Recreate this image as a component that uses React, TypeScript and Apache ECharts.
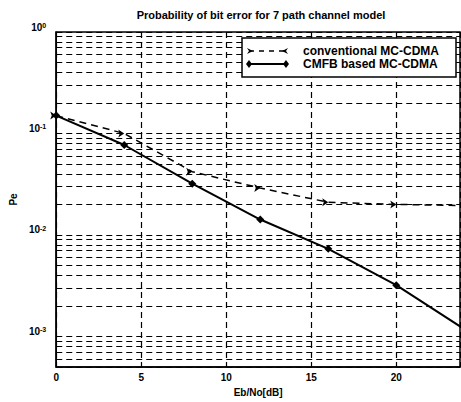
import React, { useEffect, useRef } from "react";
import * as echarts from "echarts";

const TITLE = "Probability of bit error for 7 path channel model";
const X_LABEL = "Eb/No[dB]";
const Y_LABEL = "Pe";
const SNR = [0, 4, 8, 12, 16, 20, 24];
const CONVENTIONAL = [0.15, 0.1, 0.042, 0.029, 0.021, 0.02, 0.0195];
const CMFB = [0.15, 0.077, 0.032, 0.0142, 0.0073, 0.0032, 0.00118];
const SERIES_NAMES = ["conventional MC-CDMA", "CMFB based MC-CDMA"];
const X_MIN = 0;
const X_MAX = 23.75;
const X_INTERVAL = 5;
const Y_MIN = 0.0005;
const Y_MAX = 1;
const DECADES = [-4, -3, -2, -1];
const MINOR_MULTIPLIERS = [2, 3, 4, 5, 6, 7, 8, 9];

const FONT = "Liberation Sans";
const DASH = [6, 4];

export default function App() {
  const ref = useRef<HTMLDivElement>(null);
  useEffect(() => {
    if (!ref.current) return;
    const chart = echarts.init(ref.current, null, { renderer: "svg" });
    const minorGrid: number[] = [];
    DECADES.forEach((d) =>
      MINOR_MULTIPLIERS.forEach((m) => {
        const v = m * Math.pow(10, d);
        if (v > Y_MIN * 1.0001 && v < Y_MAX) minorGrid.push(v);
      })
    );
    const lx0 = 249, lx1 = 286, r1 = 51, r2 = 64;
    const Z = 100;
    chart.setOption({
      animation: false,
      backgroundColor: "#fff",
      title: {
        text: TITLE,
        left: 256,
        textAlign: "center",
        top: 4,
        textStyle: { fontFamily: FONT, fontSize: 11, fontWeight: "bold", color: "#000" },
      },
      grid: {
        left: 50,
        right: 1,
        top: 32,
        bottom: 34,
        show: true,
        borderColor: "#000",
        borderWidth: 1.5,
        backgroundColor: "transparent",
      },
      xAxis: {
        type: "value",
        min: X_MIN,
        max: X_MAX,
        interval: X_INTERVAL,
        name: X_LABEL,
        nameLocation: "middle",
        nameGap: 20,
        nameTextStyle: { fontFamily: FONT, fontSize: 10, fontWeight: "bold", color: "#000" },
        axisLine: { show: true, lineStyle: { color: "#000", width: 1.5 } },
        axisTick: { show: true, inside: true, length: 4, lineStyle: { color: "#000" } },
        axisLabel: {
          showMaxLabel: false,
          margin: 5,
          fontFamily: FONT,
          fontSize: 10,
          fontWeight: "bold",
          color: "#000",
        },
        splitLine: { show: true, lineStyle: { type: DASH, color: "#000", width: 1.2 } },
      },
      yAxis: {
        type: "log",
        logBase: 10,
        min: Y_MIN,
        max: Y_MAX,
        name: Y_LABEL,
        nameLocation: "middle",
        nameGap: 32,
        nameRotate: 90,
        nameTextStyle: { fontFamily: FONT, fontSize: 10, fontWeight: "bold", color: "#000" },
        axisLine: { show: true, lineStyle: { color: "#000", width: 1.5 } },
        axisTick: { show: true, inside: true, length: 4, lineStyle: { color: "#000" } },
        axisLabel: {
          showMinLabel: false,
          margin: 10,
          verticalAlign: "bottom",
          formatter: (v: number) => {
            const l = Math.log10(v);
            const e = Math.round(l);
            if (Math.abs(l - e) > 1e-6) return "";
            return `{b|10}{s|${e}}`;
          },
          rich: {
            b: { fontFamily: FONT, fontSize: 10, lineHeight: 10, fontWeight: "bold", color: "#000", verticalAlign: "bottom" },
            s: { fontFamily: FONT, fontSize: 7, lineHeight: 7, fontWeight: "bold", color: "#000", verticalAlign: "top", padding: [0, 0, 7, 0] },
          },
        },
        splitLine: { show: true, lineStyle: { type: DASH, color: "#000", width: 1.2 } },
      },
      series: [
        {
          name: SERIES_NAMES[0],
          type: "line",
          data: SNR.map((x, i) => [x, CONVENTIONAL[i]]),
          lineStyle: { color: "#000", width: 1.5, type: [7, 5] },
          itemStyle: { color: "#000" },
          symbol: "arrow",
          symbolRotate: -90,
          symbolSize: 6,
          clip: true,
          z: 3,
        },
        {
          name: SERIES_NAMES[1],
          type: "line",
          data: SNR.map((x, i) => [x, CMFB[i]]),
          lineStyle: { color: "#000", width: 2 },
          itemStyle: { color: "#000" },
          symbol: "diamond",
          symbolSize: 8,
          clip: true,
          z: 4,
          markLine: {
            silent: true,
            symbol: "none",
            label: { show: false },
            lineStyle: { type: DASH, color: "#000", width: 1.2 },
            data: minorGrid.map((v) => [{ coord: [X_MIN, v] }, { coord: [X_MAX, v] }]),
            z: 1,
          },
        },
      ],
      graphic: [
        {
          type: "rect",
          z: Z,
          shape: { x: 242, y: 38, width: 214, height: 39 },
          style: { fill: "#fff", stroke: "#000", lineWidth: 1.5 },
        },
        {
          type: "line",
          z: Z,
          shape: { x1: lx0, y1: r1, x2: lx1, y2: r1 },
          style: { stroke: "#000", lineWidth: 1.5, lineDash: [5, 5] },
        },
        {
          type: "polygon",
          z: Z,
          shape: { points: [[lx0 - 2, r1 - 3], [lx0 + 4, r1], [lx0 - 2, r1 + 3], [lx0, r1]] },
          style: { fill: "#000" },
        },
        {
          type: "polygon",
          z: Z,
          shape: { points: [[lx1 + 2, r1 - 3], [lx1 - 4, r1], [lx1 + 2, r1 + 3], [lx1, r1]] },
          style: { fill: "#000" },
        },
        {
          type: "line",
          z: Z,
          shape: { x1: lx0, y1: r2, x2: lx1, y2: r2 },
          style: { stroke: "#000", lineWidth: 2 },
        },
        {
          type: "polygon",
          z: Z,
          shape: { points: [[lx0, r2 - 4], [lx0 + 3, r2], [lx0, r2 + 4], [lx0 - 3, r2]] },
          style: { fill: "#000" },
        },
        {
          type: "polygon",
          z: Z,
          shape: { points: [[lx1, r2 - 4], [lx1 + 3, r2], [lx1, r2 + 4], [lx1 - 3, r2]] },
          style: { fill: "#000" },
        },
        {
          type: "text",
          z: Z,
          x: 303,
          y: r1,
          style: {
            text: SERIES_NAMES[0],
            fill: "#000",
            font: `bold 12px "${FONT}"`,
            verticalAlign: "middle",
          },
        },
        {
          type: "text",
          z: Z,
          x: 303,
          y: r2,
          style: {
            text: SERIES_NAMES[1],
            fill: "#000",
            font: `bold 12px "${FONT}"`,
            verticalAlign: "middle",
          },
        },
      ],
    });
    return () => chart.dispose();
  }, []);
  return (
    <div
      ref={ref}
      style={{ position: "absolute", left: 0, top: 0, width: 461, height: 402, background: "#fff" }}
    />
  );
}
